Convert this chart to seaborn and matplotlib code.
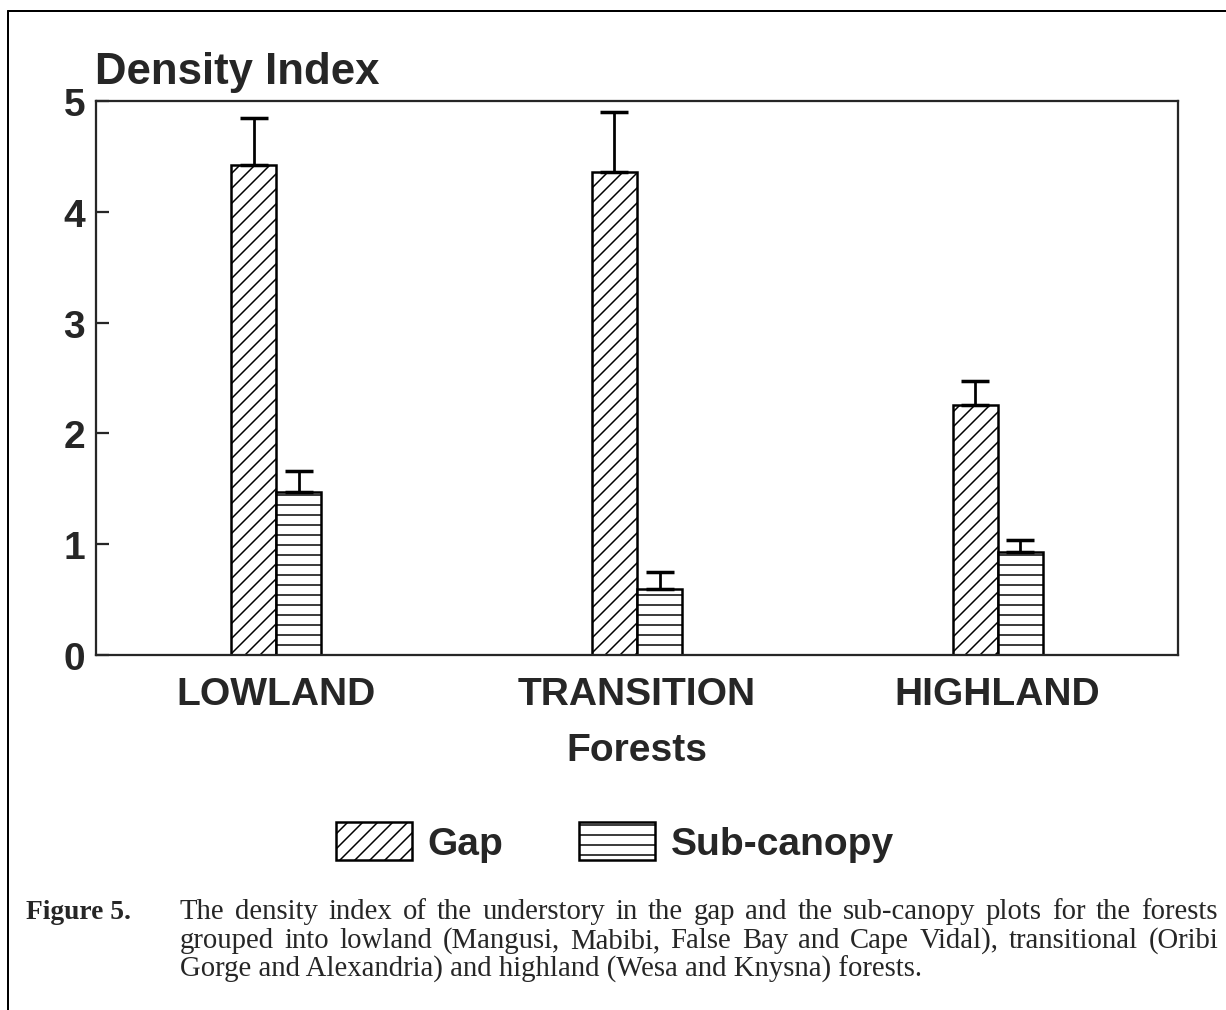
import pandas as pd
import matplotlib
matplotlib.use("Agg")
import matplotlib.pyplot as plt
from matplotlib.patches import Patch
from matplotlib.lines import Line2D
import seaborn as sns

forests = ["LOWLAND", "TRANSITION", "HIGHLAND"]
plots = ["Gap", "Sub-canopy"]
gap_mean = [4.42, 4.36, 2.26]
gap_err = [0.43, 0.54, 0.21]
sub_mean = [1.47, 0.60, 0.93]
sub_err = [0.19, 0.15, 0.11]
hatches = ["////", "---"]
caption = [
    "The density index of the understory in the gap and the sub-canopy plots for the forests",
    "grouped into lowland (Mangusi, Mabibi, False Bay and Cape Vidal), transitional (Oribi",
    "Gorge and Alexandria) and highland (Wesa and Knysna) forests.",
]

df = pd.DataFrame({
    "forest": forests * 2,
    "plot": [plots[0]] * 3 + [plots[1]] * 3,
    "density": gap_mean + sub_mean,
})
errs = [gap_err, sub_err]

sns.set_style("ticks")
plt.rcParams["font.family"] = ["Liberation Sans", "DejaVu Sans"]
plt.rcParams["hatch.linewidth"] = 0.6

DPI = 180
W, H = 1226, 1011
fig = plt.figure(figsize=(W / DPI, H / DPI), dpi=DPI)
ax = fig.add_axes([96 / W, 1 - 656 / H, (1178 - 96) / W, (656 - 102) / H])

sns.barplot(data=df, x="forest", y="density", hue="plot", order=forests,
            hue_order=plots, palette={p: "white" for p in plots},
            edgecolor="black", linewidth=1.0, width=0.25, errorbar=None,
            legend=False, ax=ax)

# hatch each series and put upper-only error bars on top
for cont, h, e in zip(ax.containers, hatches, errs):
    for bar, err in zip(cont, e):
        bar.set_hatch(h)
        xc = bar.get_x() + bar.get_width() / 2
        ax.errorbar(xc, bar.get_height(), yerr=[[0], [err]], fmt="none",
                    ecolor="black", elinewidth=1.1, capsize=5.6, capthick=1.4)

ax.set_xlim(-0.5, 2.5)
ax.set_ylim(0, 5)
ax.set_yticks(range(6))
ax.tick_params(axis="y", direction="in", length=5.2, width=0.9, pad=4.4,
               labelsize=15.6)
ax.tick_params(axis="x", length=0, pad=8.5, labelsize=15.6)
for lab in ax.get_xticklabels() + ax.get_yticklabels():
    lab.set_fontweight("bold")
for sp in ax.spines.values():
    sp.set_linewidth(0.9)
    sp.set_visible(True)
ax.set_xlabel("Forests", fontsize=15.6, fontweight="bold", labelpad=8)
ax.set_ylabel("")

fig.text(95 / W, 1 - 84 / H, "Density Index", fontsize=17.5,
         fontweight="bold", va="baseline", ha="left")

handles = [Patch(facecolor="white", edgecolor="black", linewidth=1.0, hatch=h)
           for h in hatches]
fig.legend(handles, plots, loc="center", bbox_to_anchor=(615 / W, 1 - 843 / H),
           ncol=2, frameon=False, prop={"size": 15.6, "weight": "bold"},
           handlelength=1.95, handleheight=1.12, handletextpad=0.4,
           columnspacing=1.93, borderpad=0, borderaxespad=0)

# caption, first two lines justified to the right margin
serif = ["Liberation Serif", "DejaVu Serif"]
cap_size = 11.5
x0, x1 = 180, 1218
fig.text(26 / W, 1 - 919 / H, "Figure 5.", family=serif, fontsize=11,
         fontweight="bold", va="baseline")
renderer = fig.canvas.get_renderer()
for i, line in enumerate(caption):
    yb = 1 - (919 + 29 * i) / H
    if i == len(caption) - 1:
        fig.text(x0 / W, yb, line, family=serif, fontsize=cap_size, va="baseline")
        continue
    words = line.split()
    txts = [fig.text(0, yb, w, family=serif, fontsize=cap_size, va="baseline")
            for w in words]
    widths = [t.get_window_extent(renderer).width for t in txts]
    space = (x1 - x0 - sum(widths)) / (len(words) - 1)
    x = x0
    for t, w in zip(txts, widths):
        t.set_x(x / W)
        x += w + space

# page frame (left and top edges of the scanned box)
fig.add_artist(Line2D([8 / W, 8 / W], [0, 1 - 12 / H], color="black",
                      lw=0.8, transform=fig.transFigure))
fig.add_artist(Line2D([8 / W, 1], [1 - 12 / H, 1 - 12 / H], color="black",
                      lw=0.8, transform=fig.transFigure))

fig.savefig("out.png", dpi=DPI)
